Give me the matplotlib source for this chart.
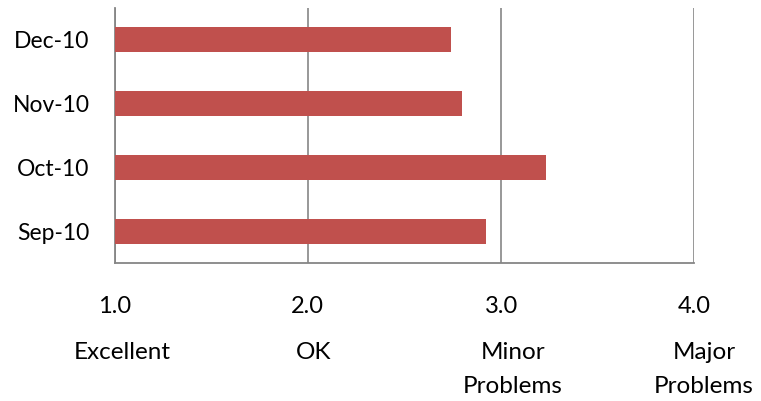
import matplotlib.pyplot as plt

months = ["Sep-10", "Oct-10", "Nov-10", "Dec-10"]
scores = [2.92, 3.23, 2.80, 2.74]
tick_vals = [1.0, 2.0, 3.0, 4.0]
tick_labels = ["1.0", "2.0", "3.0", "4.0"]
rating_labels = ["Excellent", "OK", "Minor\nProblems", "Major\nProblems"]
rating_pos = [1.04, 2.03, 3.06, 4.05]

plt.rcParams['font.family'] = ['Lato', 'DejaVu Sans']
fig = plt.figure(figsize=(7.61, 4.01), dpi=100)
ax = fig.add_axes([0.1505, 0.344, 0.762, 0.636])

grey = "#868686"
y = range(len(months))
ax.barh(y, [s - 1.0 for s in scores], left=1.0, height=0.39, color="#C0504D", zorder=3)

ax.set_xlim(1.0, 4.0)
ax.set_ylim(-0.5, len(months) - 0.5)
ax.set_yticks(list(y))
ax.set_yticklabels(months, fontsize=16.5)
ax.tick_params(axis='y', length=0, pad=18)
ax.set_xticks(tick_vals)
ax.set_xticklabels([])
ax.tick_params(axis='x', length=0)
ax.grid(axis='x', color=grey, linewidth=1.2, zorder=0)
for s in ["top", "right"]:
    ax.spines[s].set_visible(False)
for s in ["left", "bottom"]:
    ax.spines[s].set_color(grey)
    ax.spines[s].set_linewidth(1.3)

tr = ax.get_xaxis_transform()
for v, lab in zip(tick_vals, tick_labels):
    ax.text(v, -0.17, lab, transform=tr, ha='center', va='center', fontsize=17)
for v, lab in zip(rating_pos, rating_labels):
    ax.text(v, -0.31, lab, transform=tr, ha='center', va='top', fontsize=17.5,
            linespacing=1.75)

fig.savefig("out.png", dpi=100)
